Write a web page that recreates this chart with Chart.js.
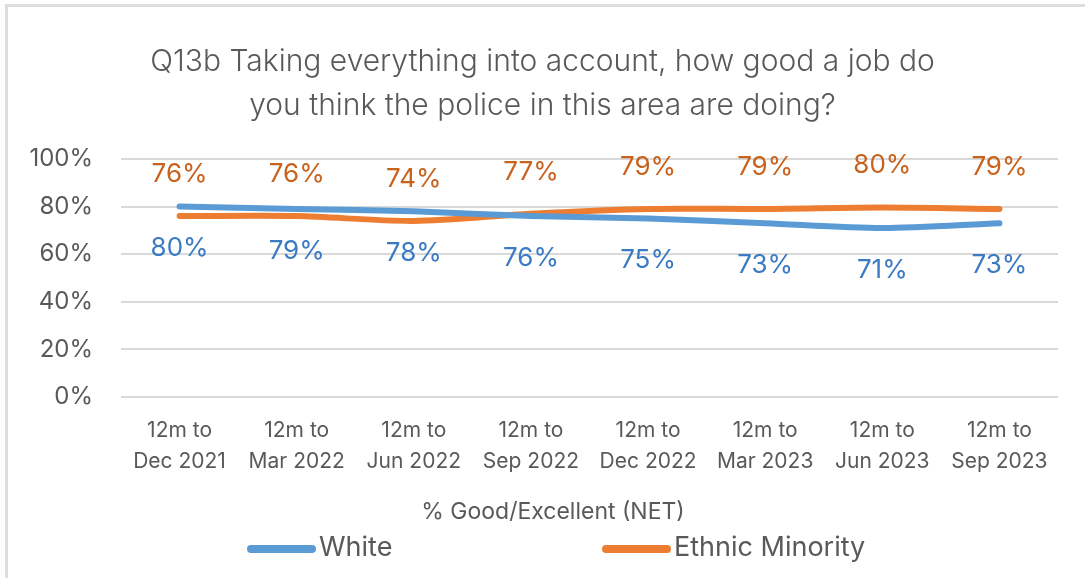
<!DOCTYPE html>
<html>
<head>
<meta charset="utf-8">
<script src="https://cdn.jsdelivr.net/npm/chart.js@4/dist/chart.umd.min.js"></script>
<style>
  html, body { margin: 0; padding: 0; background: #fff; }
  #wrap { position: relative; width: 1085px; height: 578px; }
  #frame {
    position: absolute; left: 5px; top: 4px; right: 0; bottom: 0;
    border-left: 3px solid #dedede; border-top: 3px solid #dedede;
    pointer-events: none;
  }
</style>
</head>
<body>
<div id="wrap">
  <canvas id="policeChart" width="1085" height="578"></canvas>
  <div id="frame"></div>
</div>
<script>
const periods = [
    ['12m to', 'Dec 2021'], ['12m to', 'Mar 2022'], ['12m to', 'Jun 2022'], ['12m to', 'Sep 2022'],
    ['12m to', 'Dec 2022'], ['12m to', 'Mar 2023'], ['12m to', 'Jun 2023'], ['12m to', 'Sep 2023']
];
const whiteValues = [80, 79, 78, 76, 75, 73, 71, 73];
const minorityValues = [76, 76, 74, 77, 79, 79, 79.6, 79];
const yTicks = [0, 20, 40, 60, 80, 100];

const titleLines = ['Q13b Taking everything into account, how good a job do',
                    'you think the police in this area are doing?'];
const axisTitle = '% Good/Excellent (NET)';

const textGrey = '#595959';
const fontFamily = 'Inter, "Open Sans", sans-serif';

// value labels above / below each point
const valueLabels = {
    id: 'valueLabels',
    afterDatasetsDraw(chart) {
        const ctx = chart.ctx;
        ctx.save();
        ctx.font = '26px ' + fontFamily;
        ctx.textAlign = 'center';
        ctx.textBaseline = 'middle';
        chart.data.datasets.forEach((ds, i) => {
            const meta = chart.getDatasetMeta(i);
            ctx.fillStyle = ds.labelColor;
            meta.data.forEach((pt, j) => {
                ctx.fillText(Math.round(ds.data[j]) + '%', pt.x, pt.y + ds.labelOffset);
            });
        });
        ctx.restore();
    }
};

// axis caption + excel style legend with long line markers
const lineLegend = {
    id: 'lineLegend',
    afterDraw(chart) {
        const ctx = chart.ctx;
        ctx.save();
        ctx.fillStyle = textGrey;
        ctx.font = '23px ' + fontFamily;
        ctx.textAlign = 'center';
        ctx.textBaseline = 'middle';
        ctx.fillText(axisTitle, 553, 512);

        const starts = [247, 602];
        const y = 548;
        ctx.font = '27px ' + fontFamily;
        ctx.textAlign = 'left';
        chart.data.datasets.forEach((ds, i) => {
            ctx.strokeStyle = ds.borderColor;
            ctx.lineWidth = 8;
            ctx.lineCap = 'round';
            ctx.beginPath();
            ctx.moveTo(starts[i] + 4, y + 1);
            ctx.lineTo(starts[i] + 65, y + 1);
            ctx.stroke();
            ctx.fillStyle = textGrey;
            ctx.fillText(ds.label, starts[i] + 72, y);
        });
        ctx.restore();
    }
};

const ctx = document.getElementById('policeChart').getContext('2d');
new Chart(ctx, {
    type: 'line',
    data: {
        labels: periods,
        datasets: [{
            label: 'White',
            data: whiteValues,
            borderColor: '#5b9bd5',
            labelColor: '#3a7bc4',
            labelOffset: 42,
            borderWidth: 6,
            borderCapStyle: 'round',
            pointRadius: 0,
            tension: 0.3
        }, {
            label: 'Ethnic Minority',
            data: minorityValues,
            borderColor: '#ed7d31',
            labelColor: '#c8621c',
            labelOffset: -42,
            borderWidth: 6,
            borderCapStyle: 'round',
            pointRadius: 0,
            tension: 0.3
        }]
    },
    options: {
        responsive: false,
        animation: false,
        layout: { padding: { top: 0, left: 27, right: 27, bottom: 45 } },
        plugins: {
            legend: { display: false },
            tooltip: { enabled: false },
            title: {
                display: true,
                text: titleLines,
                color: textGrey,
                font: { family: fontFamily, size: 30, weight: 300, lineHeight: 44 / 30 },
                padding: { top: 40, bottom: 31 }
            }
        },
        scales: {
            y: {
                min: 0,
                max: 100,
                afterBuildTicks(scale) {
                    scale.ticks = yTicks.map(v => ({ value: v }));
                },
                afterFit(scale) { scale.width = 94; },
                border: { display: false },
                grid: { color: '#d9d9d9', lineWidth: 2, drawTicks: false },
                ticks: {
                    padding: 28,
                    color: textGrey,
                    font: { family: fontFamily, size: 24 },
                    callback: v => v + '%'
                }
            },
            x: {
                offset: true,
                afterFit(scale) { scale.height = 136; },
                border: { display: false },
                grid: { display: false, drawTicks: false },
                ticks: {
                    padding: 18,
                    maxRotation: 0,
                    autoSkip: false,
                    color: textGrey,
                    font: { family: fontFamily, size: 21, lineHeight: 31 / 21 }
                }
            }
        }
    },
    plugins: [valueLabels, lineLegend]
});
</script>
</body>
</html>
